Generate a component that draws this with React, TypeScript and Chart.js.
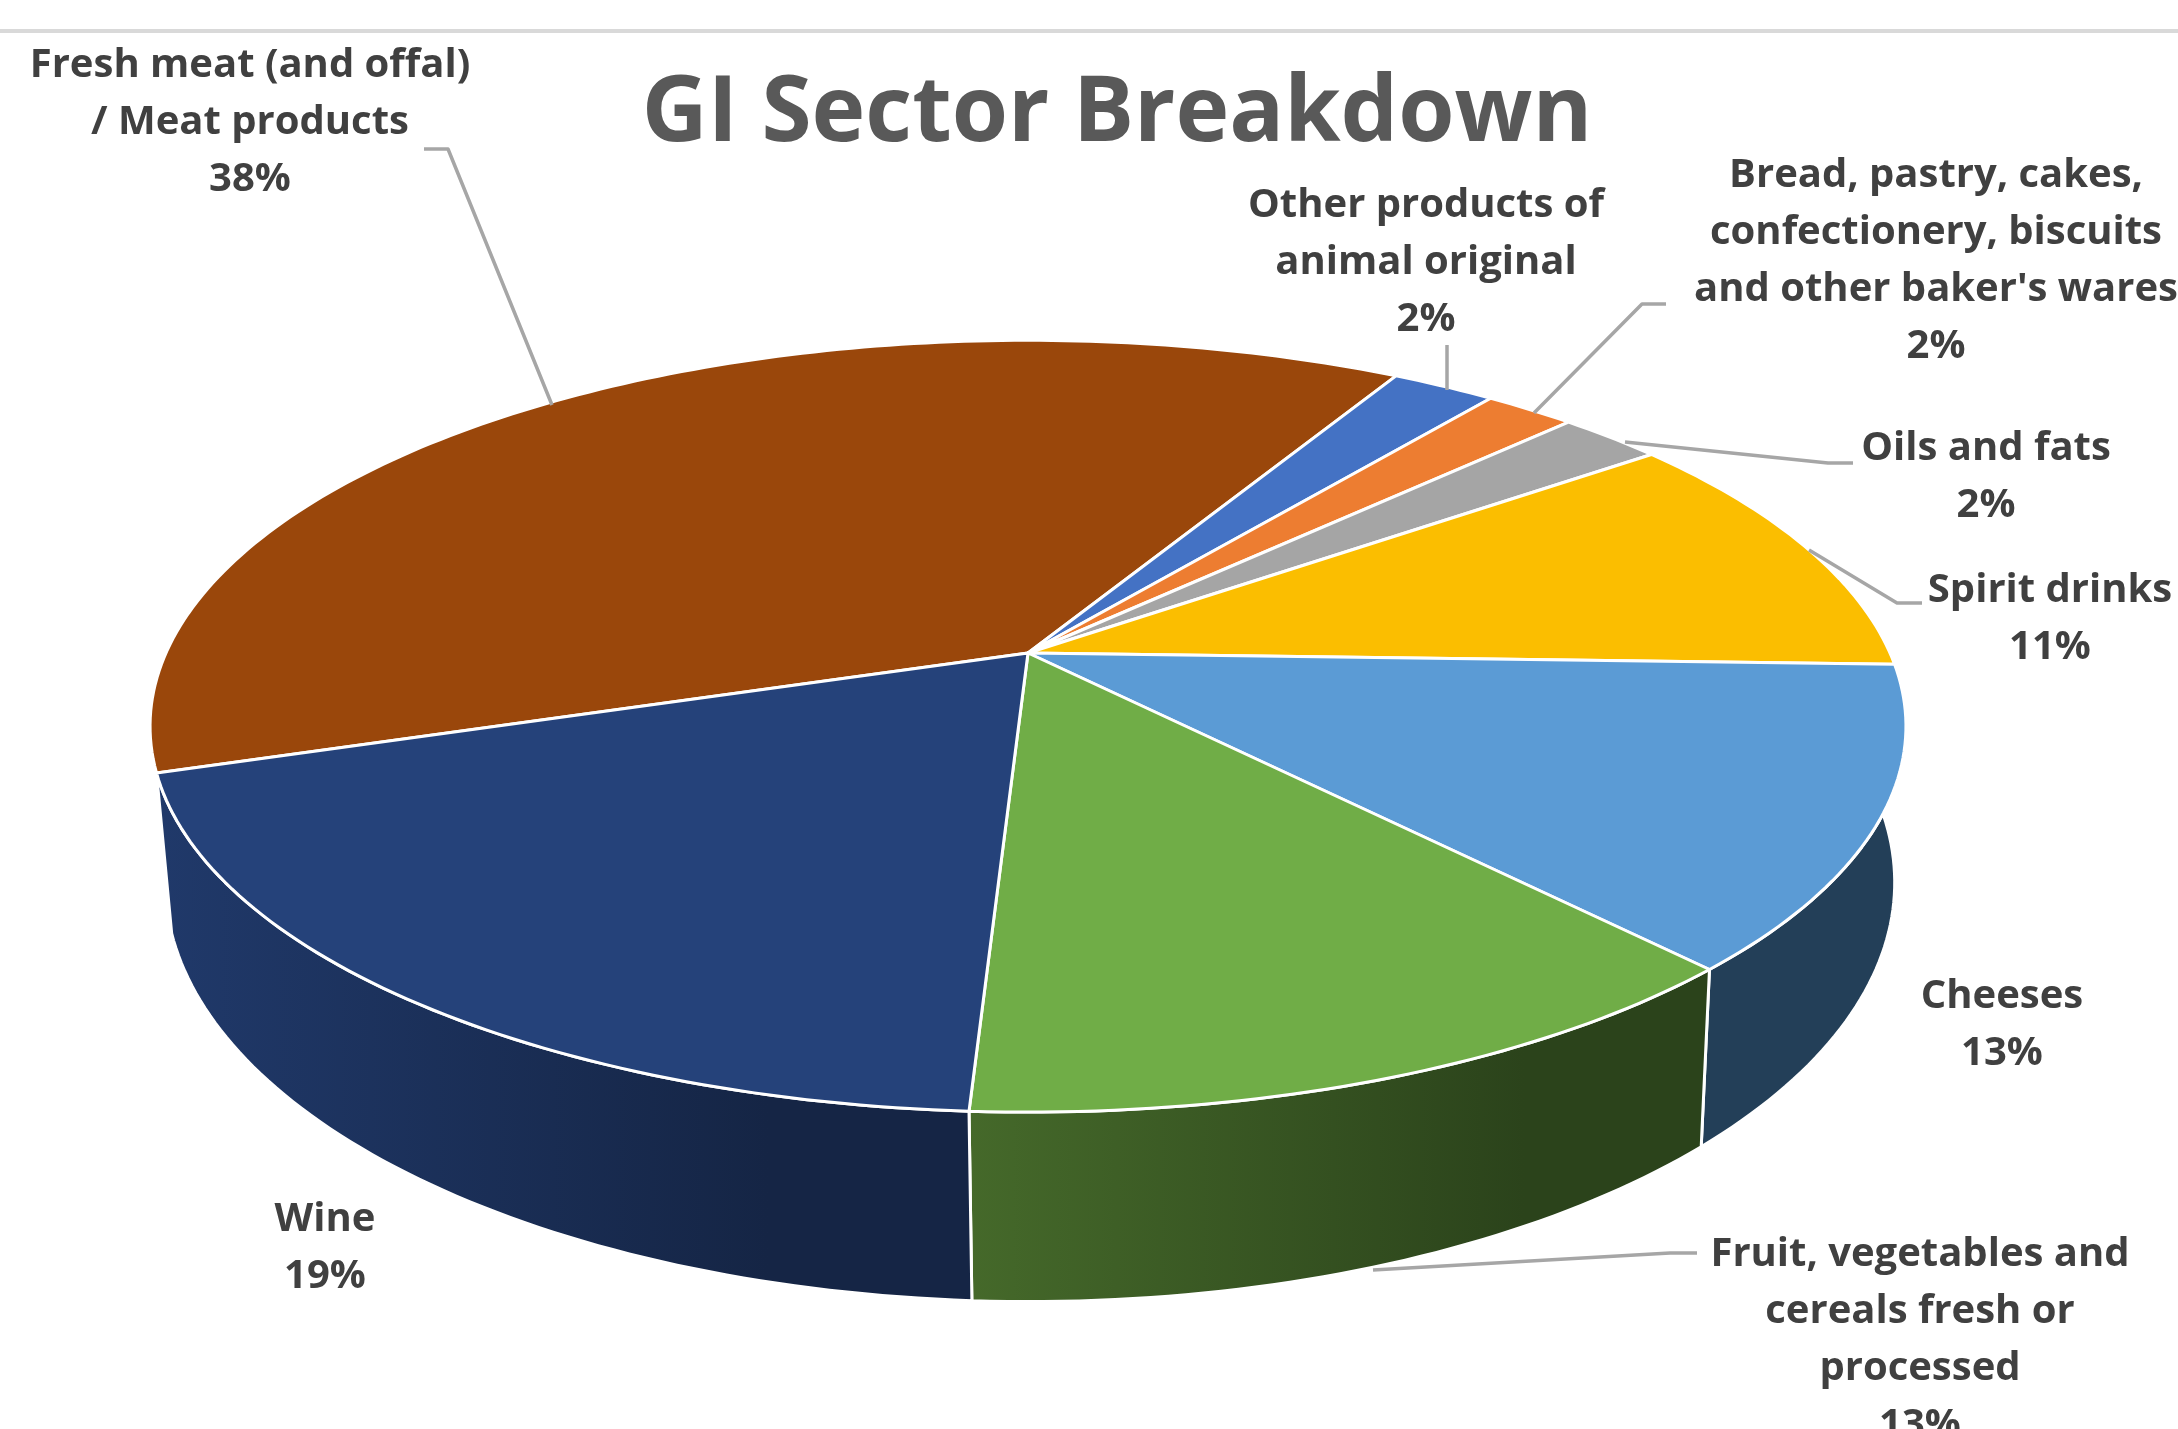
import React, { useEffect, useRef } from "react";
import { Chart, registerables } from "chart.js";

Chart.register(...registerables);

const categories = [
  "Fresh meat (and offal) / Meat products",
  "Other products of animal original",
  "Bread, pastry, cakes, confectionery, biscuits and other baker's wares",
  "Oils and fats",
  "Spirit drinks",
  "Cheeses",
  "Fruit, vegetables and cereals fresh or processed",
  "Wine",
];
const shares = [38.2, 2.3, 2.0, 2.3, 10.6, 12.6, 12.8, 19.2];
const topColors = ["#9A470B", "#4472C4", "#ED7D31", "#A5A5A5", "#FBBE00", "#5B9BD5", "#70AD47", "#25427A"];
const sideStartColors = ["#5C2A07", "#29447A", "#8E4B1D", "#636363", "#977200", "#233F58", "#45692A", "#20396A"];
const sideEndColors = ["#5C2A07", "#29447A", "#8E4B1D", "#636363", "#977200", "#233F58", "#2B431B", "#152545"];

const labelLines = [
  ["Fresh meat (and offal)", "/ Meat products"],
  ["Other products of", "animal original"],
  ["Bread, pastry, cakes,", "confectionery, biscuits", "and other baker's wares"],
  ["Oils and fats"],
  ["Spirit drinks"],
  ["Cheeses"],
  ["Fruit, vegetables and", "cereals fresh or", "processed"],
  ["Wine"],
];
const labelAnchors = [
  [250, 66], [1426, 206], [1936, 176], [1986, 449], [2050, 591], [2002, 997], [1920, 1255], [325, 1220],
];
const leaderLines: number[][][] = [
  [[424, 149], [448, 149], [552, 405]],
  [[1447, 345], [1447, 390]],
  [[1666, 304], [1642, 304], [1534, 413]],
  [[1853, 463], [1828, 463], [1625, 442]],
  [[1922, 603], [1897, 603], [1809, 550]],
  [],
  [[1697, 1253], [1670, 1253], [1373, 1270]],
  [],
];

const PERSP = -0.1897;
const TOP = { cx: 1028, a: 862, b: 372, y0: 653 };
const BOTTOM = { cx: 1030, a: 849, b: 404, y0: 803 };
const LABEL_FONT = "700 40px 'Open Sans'";
const LINE_STEP = 57;

type Plane = { cx: number; a: number; b: number; y0: number };

function project(theta: number, plane: Plane) {
  const ux = Math.cos(theta);
  const uy = Math.sin(theta);
  const d = 1 + PERSP * uy;
  return { x: plane.cx + (plane.a * ux) / d, y: plane.y0 + (plane.b * uy) / d };
}

function rimPoints(start: number, end: number, plane: Plane) {
  const n = Math.max(4, Math.ceil(((end - start) * 180) / Math.PI));
  const pts = [];
  for (let i = 0; i <= n; i++) pts.push(project(start + ((end - start) * i) / n, plane));
  return pts;
}

const perspectivePie = {
  id: "perspectivePie",
  beforeDatasetsDraw(chart: any) {
    const ctx: CanvasRenderingContext2D = chart.ctx;
    const arcs = chart.getDatasetMeta(0).data;

    ctx.save();
    ctx.fillStyle = "#D9D9D9";
    ctx.fillRect(0, 29, chart.width, 4);

    ctx.lineJoin = "round";
    ctx.strokeStyle = "#FFFFFF";
    ctx.lineWidth = 3;

    arcs.forEach((arc: any, i: number) => {
      const mid = (arc.startAngle + arc.endAngle) / 2;
      if (Math.sin(mid) <= 0) return;
      const upper = rimPoints(arc.startAngle, arc.endAngle, TOP);
      const lower = rimPoints(arc.startAngle, arc.endAngle, BOTTOM);
      const xs = upper.concat(lower).map((p) => p.x);
      const grad = ctx.createLinearGradient(Math.min(...xs), 0, Math.max(...xs), 0);
      grad.addColorStop(0, sideStartColors[i]);
      grad.addColorStop(0.75, sideEndColors[i]);
      grad.addColorStop(1, sideEndColors[i]);
      ctx.fillStyle = grad;
      ctx.beginPath();
      upper.forEach((p, k) => (k ? ctx.lineTo(p.x, p.y) : ctx.moveTo(p.x, p.y)));
      lower.reverse().forEach((p) => ctx.lineTo(p.x, p.y));
      ctx.closePath();
      ctx.fill();
      ctx.stroke();
    });

    arcs.forEach((arc: any, i: number) => {
      const rim = rimPoints(arc.startAngle, arc.endAngle, TOP);
      ctx.fillStyle = topColors[i];
      ctx.beginPath();
      ctx.moveTo(TOP.cx, TOP.y0);
      rim.forEach((p) => ctx.lineTo(p.x, p.y));
      ctx.closePath();
      ctx.fill();
      ctx.stroke();
    });

    ctx.strokeStyle = "#A6A6A6";
    ctx.lineWidth = 3.5;
    leaderLines.forEach((line) => {
      if (!line.length) return;
      ctx.beginPath();
      line.forEach(([x, y], k) => (k ? ctx.lineTo(x, y) : ctx.moveTo(x, y)));
      ctx.stroke();
    });

    ctx.fillStyle = "#404040";
    ctx.font = LABEL_FONT;
    ctx.textAlign = "center";
    ctx.textBaseline = "middle";
    labelLines.forEach((lines, i) => {
      const [x, y] = labelAnchors[i];
      lines.concat(`${Math.round(shares[i])}%`).forEach((t, k) => ctx.fillText(t, x, y + k * LINE_STEP));
    });
    ctx.restore();
    return false;
  },
};

export default function App() {
  const ref = useRef<HTMLCanvasElement>(null);
  useEffect(() => {
    const chart = new Chart(ref.current as HTMLCanvasElement, {
      type: "pie",
      data: {
        labels: categories,
        datasets: [{ data: shares, backgroundColor: topColors }],
      },
      options: {
        responsive: false,
        animation: false,
        rotation: 252.3,
        layout: { padding: { left: 56 } },
        plugins: {
          legend: { display: false },
          tooltip: { enabled: false },
          title: {
            display: true,
            text: "GI Sector Breakdown",
            color: "#595959",
            font: { family: "'Open Sans'", size: 91, weight: "bold" },
            padding: { top: 60, bottom: 20 },
          },
        },
      },
      plugins: [perspectivePie],
    } as any);
    return () => chart.destroy();
  }, []);
  return (
    <div style={{ position: "fixed", left: 0, top: 0, width: 2178, height: 1429, overflow: "hidden", background: "#fff" }}>
      <canvas ref={ref} width={2178} height={1429} style={{ display: "block" }} />
    </div>
  );
}
